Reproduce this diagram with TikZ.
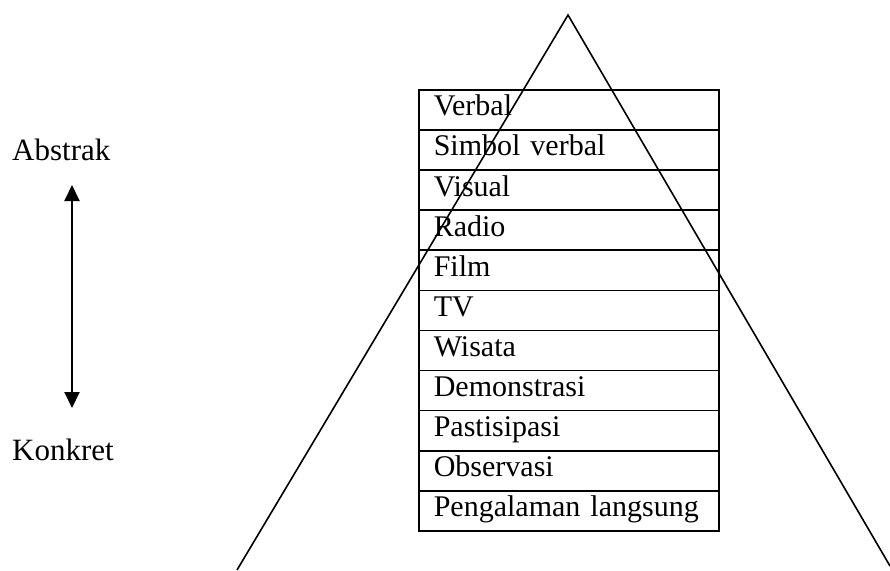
\documentclass[tikz,border=0pt]{standalone}
\usepackage{fontspec}
\setmainfont{Liberation Serif}
\usetikzlibrary{arrows.meta}
\begin{document}
\begin{tikzpicture}[x=1pt,y=-1pt,
  txt/.style={font=\fontsize{31}{31}\selectfont, inner sep=0pt},
  rowbox/.style={draw, line width=1.6pt, minimum width=300pt, minimum height=40.1pt,
    text width=270pt, align=left, inner xsep=15pt, inner ysep=0pt, anchor=north west,
    font=\fontsize{30}{30}\selectfont, text height=20pt, text depth=8pt},
  edge/.style={line width=1.6pt},
  scale arrow/.style={line width=2pt, {Triangle[width=15pt,length=16pt]}-{Triangle[width=15pt,length=16pt]}}]
  \useasboundingbox (0,0) rectangle (890,570);

  % cone of experience
  \coordinate (apex) at (568,15);
  \coordinate (baseL) at (237,570);
  \coordinate (baseR) at (890,566);
  \draw[edge] (baseL) -- (apex) -- (baseR);

  % stacked levels, top to bottom
  \foreach \lbl [count=\i from 0] in {Verbal, Simbol verbal, Visual, Radio, Film, TV, Wisata,
      Demonstrasi, Pastisipasi, Observasi, Pengalaman langsung}
    \node[rowbox] (row\i) at (418, 89+40.1*\i) {\lbl};

  % abstract / concrete scale
  \node[txt, anchor=base west] (abs) at (12,160) {Abstrak};
  \node[txt, anchor=base west] (kon) at (12,460) {Konkret};
  \coordinate (arrTop) at (72,185);
  \coordinate (arrBot) at (72,408);
  \draw[scale arrow] (arrTop) -- (arrBot);
\end{tikzpicture}
\end{document}
